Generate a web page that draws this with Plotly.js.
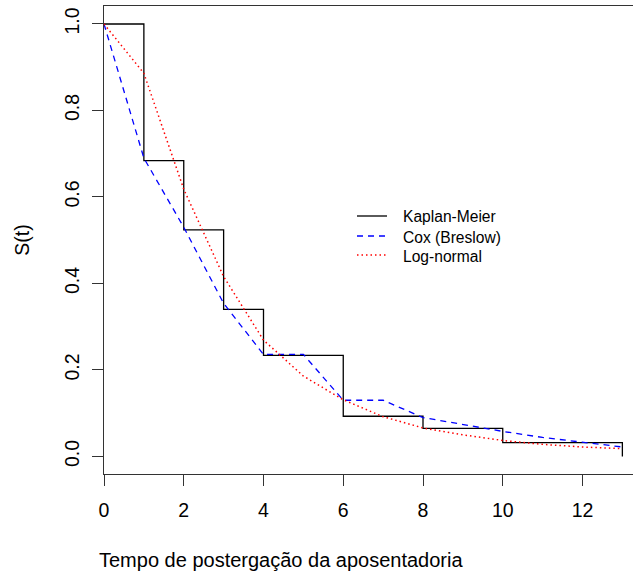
<!DOCTYPE html>
<html>
<head>
<meta charset="utf-8">
<script src="https://cdn.plot.ly/plotly-3.0.1.min.js"></script>
<style>
html, body { margin: 0; padding: 0; overflow: hidden; background: #fff; }
#chart { width: 650px; height: 571px; }
</style>
</head>
<body>
<div id="chart"></div>
<script>
// Kaplan-Meier step estimate
const kmTime = [0, 1, 2, 3, 4, 6, 8, 10, 13];
const kmSurv = [1, 0.684, 0.524, 0.340, 0.234, 0.093, 0.065, 0.032, 0];
// Fitted curves at integer times
const fitTime = [0, 1, 2, 3, 4, 5, 6, 7, 8, 9, 10, 11, 12, 13];
const coxSurv = [1, 0.69, 0.53, 0.354, 0.236, 0.236, 0.13, 0.13, 0.09, 0.074, 0.058, 0.044, 0.033, 0.022];
const lnSurv  = [1, 0.886, 0.618, 0.416, 0.269, 0.186, 0.131, 0.092, 0.066, 0.05, 0.037, 0.028, 0.022, 0.018];
const seriesNames = ['Kaplan-Meier', 'Cox (Breslow)', 'Log-normal'];
const xTicks = [0, 2, 4, 6, 8, 10, 12];
const yTicks = [0, 0.2, 0.4, 0.6, 0.8, 1.0];

const FONT = '"Liberation Sans", Arial, Helvetica, sans-serif';
const styles = [
  { color: '#000000', width: 1.3, dash: 'solid' },
  { color: '#0000FF', width: 1.3, dash: '6px,5px' },
  { color: '#FF0000', width: 1.5, dash: '1.5px,3px' }
];

const traces = [
  { x: kmTime, y: kmSurv, name: seriesNames[0], type: 'scatter', mode: 'lines',
    line: Object.assign({ shape: 'hv' }, styles[0]) },
  { x: fitTime, y: coxSurv, name: seriesNames[1], type: 'scatter', mode: 'lines',
    line: styles[1] },
  { x: fitTime, y: lnSurv, name: seriesNames[2], type: 'scatter', mode: 'lines',
    line: styles[2] }
];

// plot-area geometry (pixels) for paper-coordinate helpers
const M = { l: 104, r: 0, t: 6, b: 97 };
const W = 650, H = 571;
const PW = W - M.l - M.r, PH = H - M.t - M.b;
const px = v => (v - M.l) / PW;
const py = v => 1 - (v - M.t) / PH;

// manual legend (R style, compact rows)
const legRows = [216, 236, 255];
const legShapes = seriesNames.map((n, i) => ({
  type: 'line', xref: 'paper', yref: 'paper',
  x0: px(357), x1: px(387), y0: py(legRows[i]), y1: py(legRows[i]),
  line: styles[i]
}));
const legText = seriesNames.map((n, i) => ({
  text: n, xref: 'paper', yref: 'paper',
  x: px(401), y: py(legRows[i] + 1), xanchor: 'left', yanchor: 'middle',
  showarrow: false, font: { family: FONT, size: 15.6, color: '#000' }
}));

const layout = {
  width: W, height: H,
  margin: { l: M.l, r: M.r, t: M.t, b: M.b, pad: 0 },
  paper_bgcolor: '#ffffff', plot_bgcolor: '#ffffff',
  font: { family: FONT, size: 19.5, color: '#000000' },
  showlegend: false,
  xaxis: {
    range: [0, 13.693], tickmode: 'array', tickvals: xTicks,
    ticktext: xTicks.map(String),
    ticks: 'outside', ticklen: 11, tickwidth: 1, tickcolor: '#333',
    showline: true, linecolor: '#333', linewidth: 1, mirror: true,
    showgrid: false, zeroline: false,
    tickfont: { family: FONT, size: 19.5, color: '#000' },
    ticklabelstandoff: 8
  },
  yaxis: {
    range: [-0.0405, 1.0416], tickmode: 'array', tickvals: yTicks,
    ticktext: yTicks.map(v => v.toFixed(1)),
    tickangle: -90,
    ticks: 'outside', ticklen: 11, tickwidth: 1, tickcolor: '#333',
    showline: true, linecolor: '#333', linewidth: 1, mirror: true,
    showgrid: false, zeroline: false,
    tickfont: { family: FONT, size: 19.5, color: '#000' },
    ticklabelstandoff: 5,
    title: { text: 'S(t)', standoff: 26, font: { family: FONT, size: 19.5, color: '#000' } }
  },
  shapes: legShapes,
  annotations: legText.concat([{
    text: 'Tempo de postergação da aposentadoria',
    xref: 'paper', yref: 'paper',
    x: px(281), y: py(560),
    xanchor: 'center', yanchor: 'middle', showarrow: false,
    font: { family: FONT, size: 20, color: '#000' }
  }])
};

Plotly.newPlot('chart', traces, layout, { displayModeBar: false, staticPlot: true });
</script>
</body>
</html>
